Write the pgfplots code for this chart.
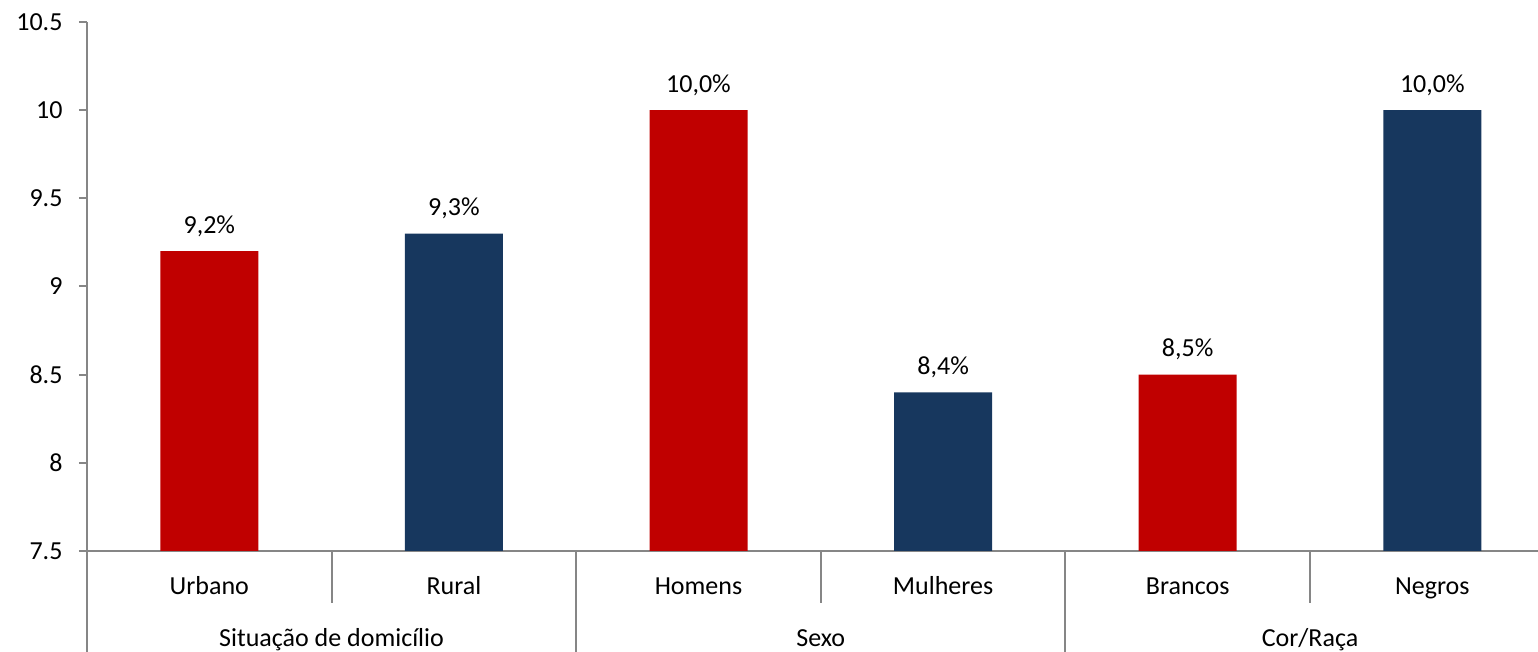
\documentclass[border=0pt]{standalone}
\usepackage{pgfplots}
\pgfplotsset{compat=1.18}
\usepackage{fontspec}
\setmainfont{Carlito}
\definecolor{barred}{HTML}{C00000}
\definecolor{barblue}{HTML}{17375E}
\definecolor{axgray}{HTML}{868686}
\begin{document}
\begin{tikzpicture}
\useasboundingbox (-87pt,-101pt) rectangle (1451pt,551pt);
\begin{axis}[
  at={(0,0)}, anchor=south west,
  scale only axis, width=1451pt, height=529pt,
  xmin=-0.5, xmax=5.432, ymin=7.5, ymax=10.5,
  ytick={7.5,8,8.5,9,9.5,10,10.5},
  xtick={0,1,2,3,4,5},
  xticklabels={Urbano,Rural,Homens,Mulheres,Brancos,Negros},
  axis x line*=bottom, axis y line*=left,
  axis line style={draw=axgray, line width=2pt},
  x axis line style={-}, y axis line style={-},
  major x tick style={draw=none},
  major y tick style={draw=axgray, line width=2pt},
  tick align=outside, major tick length=8pt,
  /pgf/number format/assume math mode=true,
  yticklabel style={font=\fontsize{26}{30}\selectfont, anchor=east, xshift=-13pt},
  xticklabel style={font=\fontsize{26}{30}\selectfont, anchor=base, yshift=-35pt},
  clip=false,
  ybar, bar width=98pt,
  nodes near coords={\pgfmathprintnumber[fixed,fixed zerofill,precision=1,use comma]{\pgfplotspointmeta}\%},
  every node near coord/.append style={font=\fontsize{26}{30}\selectfont, anchor=base, yshift=18pt, black},
]
\addplot[fill=barred, draw=none, bar shift=0pt] coordinates {(0,9.2) (2,10.0) (4,8.5)};
\addplot[fill=barblue, draw=none, bar shift=0pt] coordinates {(1,9.3) (3,8.4) (5,10.0)};
\draw[axgray, line width=2pt] (axis cs:-0.5,7.5) -- ++(0pt,-101pt);
\draw[axgray, line width=2pt] (axis cs:1.5,7.5) -- ++(0pt,-101pt);
\draw[axgray, line width=2pt] (axis cs:3.5,7.5) -- ++(0pt,-101pt);
\draw[axgray, line width=2pt] (axis cs:0.5,7.5) -- ++(0pt,-52pt);
\draw[axgray, line width=2pt] (axis cs:2.5,7.5) -- ++(0pt,-52pt);
\draw[axgray, line width=2pt] (axis cs:4.5,7.5) -- ++(0pt,-52pt);
\node[font=\fontsize{26}{30}\selectfont, anchor=base] at ([yshift=-95pt]axis cs:0.5,7.5) {Situação de domicílio};
\node[font=\fontsize{26}{30}\selectfont, anchor=base] at ([yshift=-95pt]axis cs:2.5,7.5) {Sexo};
\node[font=\fontsize{26}{30}\selectfont, anchor=base] at ([yshift=-95pt]axis cs:4.5,7.5) {Cor/Raça};
\end{axis}
\end{tikzpicture}
\end{document}
